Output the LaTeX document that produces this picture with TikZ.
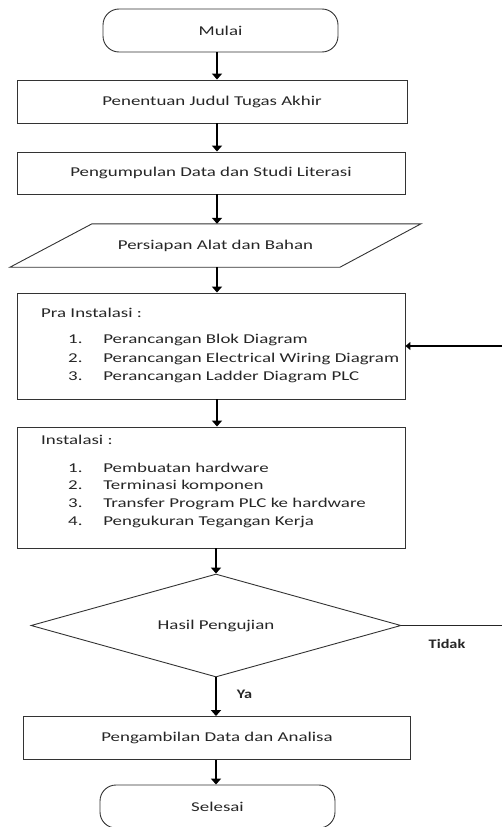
\documentclass[tikz,border=0pt]{standalone}
\usepackage{fontspec}
\setmainfont{Carlito}
\usetikzlibrary{arrows.meta,shapes.geometric}
\newcommand{\wtext}[1]{\scalebox{1.4}[1]{#1}}
\newcommand{\btext}[1]{\scalebox{1.25}[1]{#1}}
\tikzset{
  box/.style={draw=black!80, line width=0.9pt, rectangle, inner sep=0pt},
  term/.style={box, rounded corners=16pt, minimum width=235pt, minimum height=43pt},
  flow/.style={line width=2.6pt, -{Triangle[length=6pt,width=10pt]}},
  thinflow/.style={line width=1.8pt, -{Triangle[length=5pt,width=8pt]}},
  lbl/.style={font=\fontsize{13.5}{16}\selectfont, text=black!85},
  tag/.style={font=\fontsize{13}{16}\selectfont\bfseries, inner sep=0pt, text=black!85}
}
\begin{document}
\begin{tikzpicture}[x=1pt,y=-1pt]
\useasboundingbox (0,0) rectangle (502,827);
\clip (0,0) rectangle (502,827);

% start / end terminators
\node[term, lbl] (start) at (220.5,30.5) {\wtext{Mulai}};
\node[term, lbl] (finish) at (217.5,806.5) {\wtext{Selesai}};

% process boxes
\node[box, lbl, minimum width=390pt, minimum height=43pt] (judul) at (212,101.5) {\wtext{Penentuan Judul Tugas Akhir}};
\node[box, lbl, minimum width=388pt, minimum height=42pt] (data) at (211,173) {\wtext{Pengumpulan Data dan Studi Literasi}};

% input/output: preparation of tools and materials (parallelogram)
\node[lbl, rectangle, minimum width=330pt, minimum height=43pt, inner sep=0pt] (alat) at (215.5,245.5) {\wtext{Persiapan Alat dan Bahan}};
\draw[black!80, line width=0.9pt]
  ([xshift=-205.5pt]alat.south) -- ([xshift=-123.5pt]alat.north) --
  ([xshift=205.5pt]alat.north) -- ([xshift=124.5pt]alat.south) -- cycle;

% pre-installation box
\node[box, minimum width=388pt, minimum height=106pt] (pra) at (211,346) {};
\node[lbl, anchor=west, inner sep=0pt] (praT) at (41,313) {\wtext{Pra Instalasi :}};
\node[lbl, anchor=west, inner sep=0pt] (pra1) at (68,340) {\wtext{1.\hspace{1.1em}Perancangan Blok Diagram}};
\node[lbl, anchor=west, inner sep=0pt] (pra2) at (68,359) {\wtext{2.\hspace{1.1em}Perancangan Electrical Wiring Diagram}};
\node[lbl, anchor=west, inner sep=0pt] (pra3) at (68,377) {\wtext{3.\hspace{1.1em}Perancangan Ladder Diagram PLC}};

% installation box
\node[box, minimum width=388pt, minimum height=121pt] (inst) at (211,487.5) {};
\node[lbl, anchor=west, inner sep=0pt] (instT) at (41,440) {\wtext{Instalasi :}};
\node[lbl, anchor=west, inner sep=0pt] (inst1) at (68,468) {\wtext{1.\hspace{1.1em}Pembuatan hardware}};
\node[lbl, anchor=west, inner sep=0pt] (inst2) at (68,486) {\wtext{2.\hspace{1.1em}Terminasi komponen}};
\node[lbl, anchor=west, inner sep=0pt] (inst3) at (68,504) {\wtext{3.\hspace{1.1em}Transfer Program PLC ke hardware}};
\node[lbl, anchor=west, inner sep=0pt] (inst4) at (68,522) {\wtext{4.\hspace{1.1em}Pengukuran Tegangan Kerja}};

% decision
\node[draw=black!80, line width=0.9pt, diamond, aspect=3.6, minimum width=370pt, minimum height=103pt,
      inner sep=0pt, lbl] (uji) at (216,625.5) {\wtext{Hasil Pengujian}};

% result box
\node[box, lbl, minimum width=387pt, minimum height=43pt] (analisa) at (217,738) {\wtext{Pengambilan Data dan Analisa}};

% main flow
\draw[flow] (start.south -| 217,0) -- (judul.north -| 217,0);
\draw[flow] (judul.south -| 217,0) -- (data.north -| 217,0);
\draw[flow] (data.south -| 217,0) -- (alat.north -| 217,0);
\draw[flow] (alat.south -| 217,0) -- (pra.north -| 217,0);
\draw[flow] (pra.south -| 217,0) -- (inst.north -| 217,0);
\draw[flow] (inst.south -| uji.north) -- (uji.north);
\draw[flow] (uji.south) -- (analisa.north -| uji.south);
\node[tag] (ya) at (244.5,694) {\btext{Ya}};
\draw[flow] (analisa.south -| 216,0) -- (finish.north -| 216,0);

% loop back on a negative test result
\coordinate (loopout) at (502,625.5);
\coordinate (loopin) at (502,346);
\draw[line width=1.8pt, black!85] (uji.east) -- (loopout);
\draw[thinflow] (loopin) -- (pra.east);
\node[tag] (tidak) at (447,644) {\btext{Tidak}};
\end{tikzpicture}
\end{document}
